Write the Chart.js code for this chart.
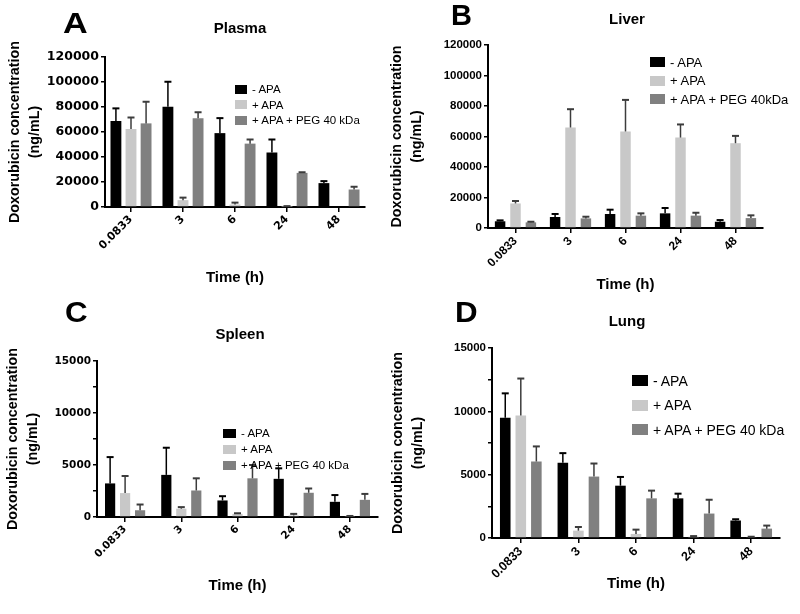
<!DOCTYPE html>
<html>
<head>
<meta charset="utf-8">
<script src="https://cdn.jsdelivr.net/npm/chart.js@4.4.0/dist/chart.umd.min.js"></script>
<style>
  body { margin: 0; background: #fff; }
  #wrap { position: relative; width: 800px; height: 614px; overflow: hidden; font-family: "Liberation Sans", Arial, sans-serif; color: #000; }
  .box { position: absolute; }
  .letter { position: absolute; font-weight: bold; font-size: 29px; line-height: 1; transform-origin: left top; }
  .ptitle { position: absolute; font-weight: bold; font-size: 15px; line-height: 1; transform: translateX(-50%); white-space: nowrap; }
  .legend { position: absolute; white-space: nowrap; }
  .legend .row { position: absolute; left: 0; display: flex; align-items: center; }
  .legend .sw { display: inline-block; margin-right: 5px; }
</style>
</head>
<body>
<div id="wrap">
  <div class="box" style="left:0;top:0;width:390px;height:300px"><canvas id="cA"></canvas></div>
  <div class="box" style="left:370px;top:0;width:430px;height:300px"><canvas id="cB"></canvas></div>
  <div class="box" style="left:0;top:300px;width:390px;height:314px"><canvas id="cC"></canvas></div>
  <div class="box" style="left:370px;top:300px;width:430px;height:314px"><canvas id="cD"></canvas></div>

  <div class="letter" style="left:63px;top:9px;transform:scaleX(1.18)">A</div>
  <div class="letter" style="left:451px;top:1px">B</div>
  <div class="letter" style="left:65px;top:298px;transform:scaleX(1.08)">C</div>
  <div class="letter" style="left:455px;top:298px;transform:scaleX(1.08)">D</div>

  <div class="ptitle" style="left:240px;top:20px">Plasma</div>
  <div class="ptitle" style="left:627px;top:11px">Liver</div>
  <div class="ptitle" style="left:240px;top:326px">Spleen</div>
  <div class="ptitle" style="left:627px;top:313px">Lung</div>

  <div class="legend" id="legA"></div>
  <div class="legend" id="legB"></div>
  <div class="legend" id="legC"></div>
  <div class="legend" id="legD"></div>
</div>

<script>
// categories
const timeLabels = ['0.0833', '3', '6', '24', '48'];

// series colours
const seriesColors = ['#000000', '#c8c8c8', '#808080'];
const errorColors = ['#000000', '#3c3c3c', '#3c3c3c'];

// legend texts (they differ slightly from panel to panel)
const namesA = ['- APA', '+ APA', '+ APA  + PEG 40 kDa'];
const namesB = ['- APA', '+ APA', '+ APA + PEG 40kDa'];
const namesC = ['- APA', '+ APA', '+ APA  + PEG 40 kDa'];
const namesD = ['- APA', '+ APA', '+ APA + PEG 40 kDa'];

// A - Plasma (ng/mL), mean and SD
const plasmaMinus = [68900, 80200, 59100, 43600, 19100];
const plasmaMinusSd = [10000, 20000, 12000, 10400, 1600];
const plasmaPlus = [62400, 5500, 2000, 200, 0];
const plasmaPlusSd = [9200, 2000, 1500, 500, 0];
const plasmaPeg = [66900, 71100, 50700, 27300, 14000];
const plasmaPegSd = [17300, 4700, 3300, 500, 2200];

// B - Liver
const liverMinus = [4400, 7200, 9200, 9600, 4100];
const liverMinusSd = [600, 2000, 2800, 3500, 1100];
const liverPlus = [16100, 65900, 63300, 59300, 55600];
const liverPlusSd = [1600, 12000, 20700, 8600, 4800];
const liverPeg = [3700, 6300, 8100, 8100, 6500];
const liverPegSd = [400, 1100, 1500, 1900, 1800];

// C - Spleen
const spleenMinus = [3230, 4050, 1590, 3670, 1460];
const spleenMinusSd = [2530, 2610, 410, 1010, 650];
const spleenPlus = [2300, 800, 300, 150, 50];
const spleenPlusSd = [1640, 150, 60, 150, 50];
const spleenPeg = [650, 2550, 3720, 2330, 1650];
const spleenPegSd = [550, 1170, 1280, 410, 570];

// D - Lung
const lungMinus = [9490, 5940, 4130, 3130, 1380];
const lungMinusSd = [1930, 760, 690, 370, 100];
const lungPlus = [9670, 580, 320, 100, 50];
const lungPlusSd = [2920, 290, 340, 50, 50];
const lungPeg = [6040, 4850, 3130, 1930, 740];
const lungPegSd = [1190, 1030, 610, 1090, 240];

// y axis ranges
const yMaxBig = 120000, yStepBig = 20000;
const yMaxSmall = 15000, yStepSmall = 2500, yLabelSmall = 5000;

const sansFont = '"Liberation Sans", Arial, sans-serif';
const wideFont = '"DejaVu Sans", Verdana, sans-serif';

Chart.defaults.font.family = sansFont;
Chart.defaults.color = '#000';

// upward error bars with a cap
const errorBars = {
  id: 'errorBars',
  afterDatasetsDraw(chart) {
    const ctx = chart.ctx;
    const yScale = chart.scales.y;
    chart.data.datasets.forEach((ds, i) => {
      chart.getDatasetMeta(i).data.forEach((bar, j) => {
        const sd = ds.sd[j];
        if (!sd) return;
        const yTop = yScale.getPixelForValue(ds.data[j] + sd);
        ctx.save();
        ctx.strokeStyle = ds.errColor;
        ctx.lineWidth = 1.5;
        ctx.beginPath();
        ctx.moveTo(bar.x, bar.y);
        ctx.lineTo(bar.x, yTop);
        ctx.stroke();
        ctx.lineWidth = 2;
        ctx.beginPath();
        ctx.moveTo(bar.x - 3.5, yTop);
        ctx.lineTo(bar.x + 3.5, yTop);
        ctx.stroke();
        ctx.restore();
      });
    });
  }
};

function drawPanel(id, p) {
  const datasets = p.series.map((vals, i) => ({
    label: p.names[i],
    data: vals,
    sd: p.sds[i],
    backgroundColor: seriesColors[i],
    errColor: errorColors[i],
    borderWidth: 0
  }));
  new Chart(document.getElementById(id), {
    type: 'bar',
    data: { labels: timeLabels, datasets: datasets },
    options: {
      responsive: true,
      maintainAspectRatio: false,
      animation: false,
      layout: { padding: p.padding },
      datasets: { bar: { categoryPercentage: p.cat, barPercentage: p.bar } },
      plugins: { legend: { display: false }, title: { display: false }, tooltip: { enabled: false } },
      scales: {
        x: {
          grid: { offset: false, drawOnChartArea: false, drawTicks: true, tickLength: 5, color: '#000', lineWidth: 1.5 },
          border: { color: '#000', width: 2 },
          ticks: { minRotation: 45, maxRotation: 45, padding: 1, color: '#000', font: { family: p.tickFamily, size: p.xTickSize, weight: 'bold' } },
          title: { display: true, text: 'Time (h)', color: '#000', font: { size: 15, weight: 'bold', lineHeight: 1.15 }, padding: { top: 0, bottom: p.xTitlePad } },
          afterFit: s => { s.height = p.xh; }
        },
        y: {
          min: 0,
          max: p.max,
          grid: { drawOnChartArea: false, drawTicks: true, tickLength: 4, color: '#000', lineWidth: 1.5 },
          border: { color: '#000', width: 2 },
          ticks: {
            stepSize: p.step,
            padding: 2,
            color: '#000',
            font: { family: p.tickFamily, size: p.yTickSize, weight: 'bold' },
            callback: v => (v % p.labelEvery === 0 ? String(v) : '')
          },
          title: { display: true, text: ['Doxorubicin concentration', '(ng/mL)'], color: '#000', font: { size: 14.3, weight: 'bold', lineHeight: 1.4 }, padding: { top: p.yTitlePad, bottom: 0 } },
          afterFit: s => { s.width = p.yw; }
        }
      }
    },
    plugins: [errorBars]
  });
}

function drawLegend(id, names, l) {
  const el = document.getElementById(id);
  el.style.left = l.x + 'px';
  el.style.top = l.y + 'px';
  el.style.fontSize = l.font + 'px';
  names.forEach((n, i) => {
    const row = document.createElement('div');
    row.className = 'row';
    row.style.top = (i * l.gap) + 'px';
    row.style.height = l.h + 'px';
    const sw = document.createElement('span');
    sw.className = 'sw';
    sw.style.width = l.bw + 'px';
    sw.style.height = l.bh + 'px';
    sw.style.background = seriesColors[i];
    row.appendChild(sw);
    row.appendChild(document.createTextNode(n));
    el.appendChild(row);
  });
}

drawPanel('cA', {
  names: namesA,
  series: [plasmaMinus, plasmaPlus, plasmaPeg],
  sds: [plasmaMinusSd, plasmaPlusSd, plasmaPegSd],
  max: yMaxBig, step: yStepBig, labelEvery: yStepBig,
  padding: { left: 4, top: 57, right: 25, bottom: 8 },
  yw: 101, xh: 85, xTitlePad: 6, yTitlePad: 1,
  cat: 0.87, bar: 0.72,
  tickFamily: wideFont, yTickSize: 12.5, xTickSize: 11
});
drawPanel('cB', {
  names: namesB,
  series: [liverMinus, liverPlus, liverPeg],
  sds: [liverMinusSd, liverPlusSd, liverPegSd],
  max: yMaxBig, step: yStepBig, labelEvery: yStepBig,
  padding: { left: 10, top: 45, right: 37, bottom: 5 },
  yw: 108, xh: 67, xTitlePad: 2, yTitlePad: 7,
  cat: 0.84, bar: 0.68,
  tickFamily: sansFont, yTickSize: 11.5, xTickSize: 12
});
drawPanel('cC', {
  names: namesC,
  series: [spleenMinus, spleenPlus, spleenPeg],
  sds: [spleenMinusSd, spleenPlusSd, spleenPegSd],
  max: yMaxSmall, step: yStepSmall, labelEvery: yLabelSmall,
  padding: { left: 2, top: 61, right: 12, bottom: 6 },
  yw: 95, xh: 91, xTitlePad: 14, yTitlePad: 1,
  cat: 0.8, bar: 0.68,
  tickFamily: wideFont, yTickSize: 10.5, xTickSize: 10.5
});
drawPanel('cD', {
  names: namesD,
  series: [lungMinus, lungPlus, lungPeg],
  sds: [lungMinusSd, lungPlusSd, lungPegSd],
  max: yMaxSmall, step: yStepSmall, labelEvery: yLabelSmall,
  padding: { left: 10, top: 48, right: 20, bottom: 5 },
  yw: 112, xh: 71, xTitlePad: 17, yTitlePad: 8,
  cat: 0.81, bar: 0.68,
  tickFamily: sansFont, yTickSize: 11.5, xTickSize: 12.5
});

drawLegend('legA', namesA, { x: 235, y: 83, gap: 15.5, h: 12, bw: 12, bh: 9, font: 11.5 });
drawLegend('legB', namesB, { x: 650, y: 55, gap: 18.5, h: 14, bw: 15, bh: 10, font: 13 });
drawLegend('legC', namesC, { x: 223, y: 427, gap: 16, h: 12, bw: 13, bh: 9, font: 11.5 });
drawLegend('legD', namesD, { x: 632, y: 373, gap: 24.5, h: 15, bw: 16, bh: 11, font: 14 });
</script>
</body>
</html>
